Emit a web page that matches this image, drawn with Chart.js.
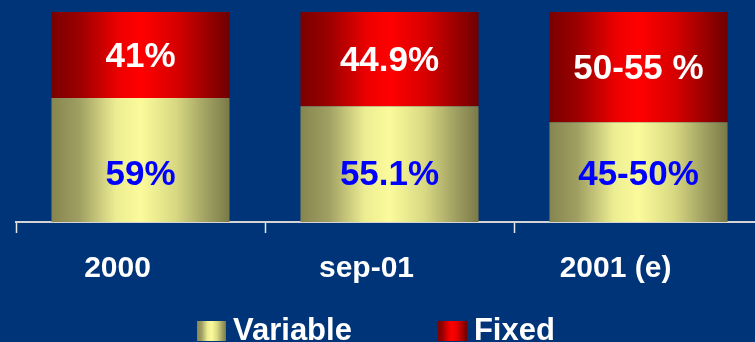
<!DOCTYPE html>
<html>
<head>
<meta charset="utf-8">
<script src="https://cdn.jsdelivr.net/npm/chart.js@4/dist/chart.umd.min.js"></script>
<style>
  html, body { margin: 0; padding: 0; background: #003478; overflow: hidden; }
  #wrap { position: relative; width: 755px; height: 342px; overflow: hidden; }
  #myChart { position: absolute; left: 0; top: 0; }
  #legend {
    position: absolute; left: 197px; top: 315px; display: flex;
    font: bold 31px "Liberation Sans", Arial, sans-serif; color: #fff; line-height: 30px;
  }
  .item { display: flex; align-items: flex-start; margin-right: 86px; }
  .box { width: 29px; height: 20px; margin-top: 6px; margin-right: 7px; }
</style>
</head>
<body>
<div id="wrap">
  <canvas id="myChart" width="775" height="342"></canvas>
  <div id="legend"></div>
</div>
<script>
// Kategori dan nilai (persen)
const categories = ['2000', 'sep-01', '2001 (e)'];
const variableValues = [59, 55.1, 47.5];
const fixedValues = [41, 44.9, 52.5];
const variableText = ['59%', '55.1%', '45-50%'];
const fixedText = ['41%', '44.9%', '50-55 %'];

const FONT = '"Liberation Sans", Arial, sans-serif';
const BAR_PCT = 0.715;

// Gradasi horizontal seperti silinder
const yellowStops = [
    [0, '#85854f'], [0.16, '#a0a063'], [0.36, '#ecec92'], [0.5, '#fbfb9c'],
    [0.7, '#d8d882'], [0.86, '#a3a364'], [1, '#7a7a48']
];
const redStops = [
    [0, '#7a0000'], [0.16, '#9c0000'], [0.38, '#ee0000'], [0.5, '#ff0000'],
    [0.7, '#d80000'], [0.86, '#a00000'], [1, '#6e0000']
];

function barGradient(stops) {
    return (context) => {
        const chart = context.chart;
        const xScale = chart.scales.x;
        if (!chart.chartArea || !xScale || context.type !== 'data') {
            return stops[3][1];
        }
        const cx = xScale.getPixelForValue(context.dataIndex);
        const half = (xScale.width / categories.length) * BAR_PCT / 2;
        const g = chart.ctx.createLinearGradient(cx - half, 0, cx + half, 0);
        stops.forEach(([o, c]) => g.addColorStop(o, c));
        return g;
    };
}

// Tulis persentase di dalam tiap bar
const barLabels = {
    id: 'barLabels',
    afterDatasetsDraw(chart) {
        const ctx = chart.ctx;
        ctx.save();
        ctx.font = 'bold 35px ' + FONT;
        ctx.textAlign = 'center';
        ctx.textBaseline = 'middle';
        chart.getDatasetMeta(0).data.forEach((bar, i) => {
            ctx.fillStyle = '#0000ff';
            ctx.fillText(variableText[i], bar.x, bar.base - 47);
        });
        chart.getDatasetMeta(1).data.forEach((bar, i) => {
            ctx.fillStyle = '#ffffff';
            ctx.fillText(fixedText[i], bar.x, (bar.y + bar.base) / 2 + 2);
        });
        ctx.restore();
    }
};

// Legenda HTML di bawah
const htmlLegend = {
    id: 'htmlLegend',
    afterUpdate(chart) {
        const el = document.getElementById('legend');
        el.innerHTML = '';
        const css = [yellowStops, redStops].map(stops =>
            'linear-gradient(to right,' + stops.map(([o, c]) => c + ' ' + (o * 100) + '%').join(',') + ')');
        chart.data.datasets.forEach((ds, i) => {
            const item = document.createElement('div');
            item.className = 'item';
            const box = document.createElement('span');
            box.className = 'box';
            box.style.background = css[i];
            const txt = document.createElement('span');
            txt.textContent = ds.label;
            item.appendChild(box);
            item.appendChild(txt);
            el.appendChild(item);
        });
    }
};

const ctx = document.getElementById('myChart').getContext('2d');
const myChart = new Chart(ctx, {
    type: 'bar',
    data: {
        labels: categories,
        datasets: [{
            label: 'Variable',
            data: variableValues,
            backgroundColor: barGradient(yellowStops),
            borderWidth: 0
        }, {
            label: 'Fixed',
            data: fixedValues,
            backgroundColor: barGradient(redStops),
            borderWidth: 0
        }]
    },
    options: {
        responsive: false,
        animation: false,
        devicePixelRatio: 1,
        datasets: {
            bar: { categoryPercentage: 1, barPercentage: BAR_PCT }
        },
        layout: {
            padding: { left: 16, right: 12, top: 12, bottom: 37 }
        },
        plugins: {
            legend: { display: false },
            tooltip: { enabled: false }
        },
        scales: {
            x: {
                stacked: true,
                border: { display: true, color: '#d4d4d4', width: 2 },
                grid: {
                    offset: true,
                    drawOnChartArea: false,
                    drawTicks: true,
                    tickLength: 11,
                    tickWidth: 1.5,
                    tickColor: '#e6e6e6'
                },
                ticks: {
                    color: '#ffffff',
                    padding: 18,
                    labelOffset: -23,
                    font: { family: FONT, size: 30, weight: 'bold' }
                }
            },
            y: {
                stacked: true,
                display: false,
                min: 0,
                max: 100
            }
        }
    },
    plugins: [barLabels, htmlLegend]
});
</script>
</body>
</html>
